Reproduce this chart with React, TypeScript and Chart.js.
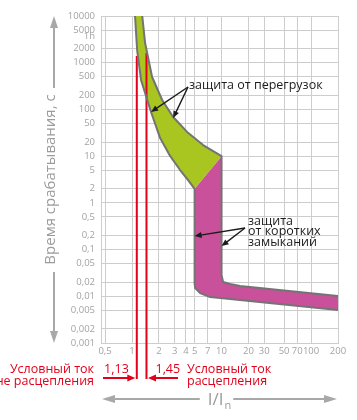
import React, { useEffect, useRef } from 'react';
import { Chart, registerables } from 'chart.js';

Chart.register(...registerables);

// ---- axis ticks ----
const xTickValues = [0.5, 1, 2, 3, 4, 5, 7, 10, 20, 30, 50, 70, 100, 200];
const yTickValues = [0.001, 0.002, 0.005, 0.01, 0.02, 0.05, 0.1, 0.2, 0.5, 1, 2, 5, 10, 20, 50, 100, 200, 500, 1000, 2000, 3600, 5000, 10000];
const oneHourValue = 3600;
const oneHourLabel = '1h';
const xMin = 0.45;
const xMax = 200;

// ---- overload (thermal) zone boundaries ----
const thermalLowX = [1.08, 1.14, 1.26, 1.63, 2.06, 2.66, 3.44, 4.23, 5];
const thermalLowY = [10000, 1870, 427, 88, 24.4, 10.1, 5.05, 3.08, 2];
const thermalHighX = [1.3, 1.4, 1.675, 2.17, 2.88, 4.12, 6.22, 10];
const thermalHighY = [10000, 2640, 494, 159, 69, 33, 17.3, 10];

// ---- short-circuit (magnetic) zone boundaries ----
const magneticLowX = [5, 5.07, 5.76, 7.45, 9.64, 200];
const magneticLowY = [0.0192, 0.015, 0.0117, 0.0096, 0.0092, 0.0051];
const magneticHighX = [10, 10.4, 12.5, 16.1, 200];
const magneticHighY = [0.0285, 0.0202, 0.0183, 0.0166, 0.0101];

// ---- conventional currents (red lines) ----
const conventionalX = [1.13, 1.45];
const conventionalTopY = [1390, 1610];

// ---- annotation arrow targets ----
const overloadTipX = [1.63, 2.88];
const overloadTipY = [88, 65.5];
const shortTipX = [5, 10];
const shortTipY = [0.195, 0.119];

// ---- texts ----
const yTitle = 'Время срабатывания, с';
const overloadText = 'защита от перегрузок';
const shortText = ['защита', 'от коротких', 'замыканий'];
const leftRedText = ['Условный ток', 'не расцепления'];
const rightRedText = ['Условный ток', 'расцепления'];

const FF = "'Open Sans', sans-serif";
const GREEN = '#a9c51f';
const PINK = '#c9509b';
const OUTLINE = '#747474';
const RED = '#e2001a';
const GRID = '#cdcdcd';
const TICK = '#a3a3a3';
const AXIS_GRAY = '#a8a8a8';
const INK = '#1b1b1b';

const fmt = (v: number) => (v === oneHourValue ? oneHourLabel : String(v).replace('.', ','));
const pts = (xs: number[], ys: number[]) => xs.map((x, i) => ({ x, y: ys[i] }));

function arrow(ctx: CanvasRenderingContext2D, x1: number, y1: number, x2: number, y2: number, color: string, lw: number, hl: number, hw: number) {
  const ang = Math.atan2(y2 - y1, x2 - x1);
  const c = Math.cos(ang), s = Math.sin(ang);
  const bx = x2 - hl * c, by = y2 - hl * s;
  ctx.strokeStyle = color;
  ctx.lineWidth = lw;
  ctx.beginPath();
  ctx.moveTo(x1, y1);
  ctx.lineTo(bx + c, by + s);
  ctx.stroke();
  ctx.fillStyle = color;
  ctx.beginPath();
  ctx.moveTo(x2, y2);
  ctx.lineTo(bx + hw * s, by - hw * c);
  ctx.lineTo(bx - hw * s, by + hw * c);
  ctx.closePath();
  ctx.fill();
}

const annotationPlugin = {
  id: 'schemeAnnotations',
  afterDraw(chart: any) {
    const { ctx, chartArea: a, scales } = chart;
    const xs = scales.x, ys = scales.y;
    ctx.save();

    // Y axis title with arrows
    ctx.save();
    ctx.translate(51, (a.top + a.bottom) / 2);
    ctx.rotate(-Math.PI / 2);
    ctx.font = `15px ${FF}`;
    ctx.fillStyle = '#9c9c9c';
    ctx.textAlign = 'center';
    ctx.textBaseline = 'middle';
    ctx.fillText(yTitle, 0, 0);
    ctx.restore();
    arrow(ctx, 54, 88, 54, a.top, AXIS_GRAY, 2, 12, 4);
    arrow(ctx, 54, 272, 54, a.bottom, AXIS_GRAY, 2, 12, 4);

    // X axis title I/In with arrows
    ctx.font = `17px ${FF}`;
    const mainW = ctx.measureText('I/I').width;
    ctx.font = `11px ${FF}`;
    const subW = ctx.measureText('n').width;
    const cx = (a.left + a.right) / 2;
    const sx = cx - (mainW + subW + 1) / 2;
    ctx.fillStyle = '#9c9c9c';
    ctx.textAlign = 'left';
    ctx.textBaseline = 'alphabetic';
    ctx.font = `17px ${FF}`;
    ctx.fillText('I/I', sx, 405);
    ctx.font = `11px ${FF}`;
    ctx.fillText('n', sx + mainW + 1, 409);
    arrow(ctx, sx - 8, 399, a.left + 1, 399, AXIS_GRAY, 2, 13, 4);
    arrow(ctx, sx + mainW + subW + 3, 399, a.right - 1, 399, AXIS_GRAY, 2, 13, 4);

    // Red conventional current annotations
    const rx1 = xs.getPixelForValue(conventionalX[0]);
    const rx2 = xs.getPixelForValue(conventionalX[1]);
    ctx.strokeStyle = RED;
    ctx.lineWidth = 2;
    ctx.beginPath();
    ctx.moveTo(rx1, a.bottom);
    ctx.lineTo(rx1, 379);
    ctx.moveTo(rx2, a.bottom);
    ctx.lineTo(rx2, 379);
    ctx.stroke();
    ctx.font = `12.5px ${FF}`;
    ctx.fillStyle = RED;
    ctx.textBaseline = 'middle';
    ctx.textAlign = 'right';
    ctx.fillText(leftRedText[0], 94, 369);
    ctx.fillText(leftRedText[1], 94, 381);
    ctx.fillText(fmt(conventionalX[0]), rx1 - 8, 369);
    ctx.textAlign = 'left';
    ctx.fillText(fmt(conventionalX[1]), rx2 + 9, 369);
    ctx.fillText(rightRedText[0], 187, 369);
    ctx.fillText(rightRedText[1], 187, 381);
    arrow(ctx, 103, 378, rx1 - 1.5, 378, RED, 2, 8, 3.5);
    arrow(ctx, 178, 378, rx2 + 1.5, 378, RED, 2, 8, 3.5);

    // Black zone annotations
    ctx.fillStyle = INK;
    ctx.font = `12.5px ${FF}`;
    ctx.textAlign = 'left';
    ctx.textBaseline = 'middle';
    ctx.fillText(overloadText, 189, 85);
    for (let i = 0; i < overloadTipX.length; i++) {
      arrow(ctx, 188, 87, xs.getPixelForValue(overloadTipX[i]), ys.getPixelForValue(overloadTipY[i]), INK, 1.4, 7, 3);
    }
    ctx.fillStyle = INK;
    shortText.forEach((t, i) => ctx.fillText(t, 248, 221 + i * 10.5));
    for (let i = 0; i < shortTipX.length; i++) {
      arrow(ctx, 245, 228, xs.getPixelForValue(shortTipX[i]), ys.getPixelForValue(shortTipY[i]), INK, 1.4, 7, 3);
    }
    ctx.restore();
  },
};

export default function App() {
  const ref = useRef<HTMLCanvasElement | null>(null);

  useEffect(() => {
    if (!ref.current) return;
    Chart.defaults.font.family = FF;

    const thermalLow = pts(thermalLowX, thermalLowY);
    const thermalHigh = pts(thermalHighX, thermalHighY);
    const magneticLow = pts(magneticLowX, magneticLowY);
    const magneticHigh = pts(magneticHighX, magneticHighY);
    const knee = thermalLow[thermalLow.length - 1];
    const thermalEnd = thermalHigh[thermalHigh.length - 1];

    const chart = new Chart(ref.current, {
      type: 'line',
      data: {
        datasets: [
          { label: 'outline-left', data: [...thermalLow, ...magneticLow], borderColor: OUTLINE, borderWidth: 2, borderJoinStyle: 'round', fill: false },
          { label: 'outline-right', data: [...thermalHigh, ...magneticHigh], borderColor: OUTLINE, borderWidth: 2, borderJoinStyle: 'round', fill: false },
          { label: '1,13', data: [{ x: conventionalX[0], y: conventionalTopY[0] }, { x: conventionalX[0], y: yTickValues[0] }], borderColor: RED, borderWidth: 2, fill: false },
          { label: '1,45', data: [{ x: conventionalX[1], y: conventionalTopY[1] }, { x: conventionalX[1], y: yTickValues[0] }], borderColor: RED, borderWidth: 2, fill: false },
          { label: 'overload-low', data: [...thermalLow, thermalEnd], borderWidth: 0, borderColor: 'rgba(0,0,0,0)', backgroundColor: GREEN, fill: '+1' },
          { label: 'overload-high', data: [thermalLow[0], ...thermalHigh], borderWidth: 0, borderColor: 'rgba(0,0,0,0)', fill: false },
          { label: 'short-low', data: [knee, ...magneticLow], borderWidth: 0, borderColor: 'rgba(0,0,0,0)', backgroundColor: PINK, fill: '+1' },
          { label: 'short-high', data: [knee, thermalEnd, ...magneticHigh], borderWidth: 0, borderColor: 'rgba(0,0,0,0)', fill: false },
        ] as any,
      },
      options: {
        responsive: false,
        animation: false,
        events: [],
        layout: { padding: { left: 0, top: 16, right: 19, bottom: 0 } },
        elements: { point: { radius: 0 }, line: { tension: 0 } },
        plugins: { legend: { display: false }, tooltip: { enabled: false } },
        scales: {
          x: {
            type: 'logarithmic',
            min: xMin,
            max: xMax,
            afterBuildTicks: (s: any) => { s.ticks = xTickValues.map((v) => ({ value: v })); },
            afterFit: (s: any) => { s.height = 77; },
            ticks: { autoSkip: false, maxRotation: 0, minRotation: 0, padding: 3, color: TICK, font: { size: 9.5, family: FF }, callback: (v: any) => fmt(Number(v)) },
            grid: { color: GRID, lineWidth: 1, drawTicks: false },
            border: { color: GRID, width: 1 },
          },
          y: {
            type: 'logarithmic',
            min: yTickValues[0],
            max: yTickValues[yTickValues.length - 1],
            afterBuildTicks: (s: any) => { s.ticks = yTickValues.map((v) => ({ value: v })); },
            afterFit: (s: any) => { s.width = 101; },
            ticks: { autoSkip: false, padding: 6, color: TICK, font: { size: 9.5, family: FF }, callback: (v: any) => fmt(Number(v)) },
            grid: { color: (c: any) => (c.tick && c.tick.value === oneHourValue ? 'rgba(0,0,0,0)' : GRID), lineWidth: 1, drawTicks: false },
            border: { color: GRID, width: 1 },
          },
        },
      } as any,
      plugins: [annotationPlugin],
    });
    return () => chart.destroy();
  }, []);

  return (
    <div style={{ position: 'absolute', left: 0, top: 0, width: 357, height: 420, background: '#fff' }}>
      <canvas ref={ref} width={357} height={420} />
    </div>
  );
}
